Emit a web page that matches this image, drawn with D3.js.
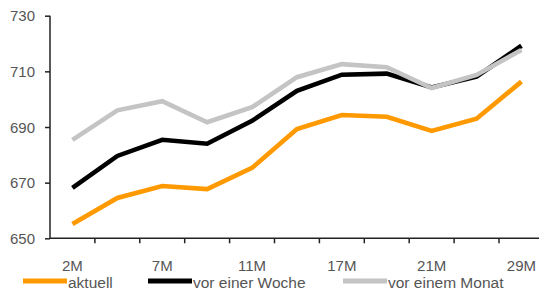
<!DOCTYPE html>
<html><head><meta charset="utf-8">
<script src="https://cdn.jsdelivr.net/npm/d3@7"></script>
<style>
html,body{margin:0;padding:0;background:#fff;}
svg{display:block;font-family:"Liberation Sans",Arial,sans-serif;}
</style></head>
<body>
<svg id="c" width="539" height="293"></svg>
<script>
const categories = ["2M","4M","7M","9M","11M","14M","17M","19M","21M","25M","29M"];
const shownLabels = ["2M","7M","11M","17M","21M","29M"];
const aktuell = [655.1,664.5,668.8,667.7,675.3,689.3,694.3,693.7,688.6,693.0,706.3];
const vorWoche = [668.1,679.6,685.4,684.0,692.2,703.0,708.8,709.2,704.2,708.1,719.2];
const vorMonat = [685.4,696.0,699.3,691.7,697.1,707.9,712.6,711.5,704.0,708.7,717.7];
const yTicks = [650,670,690,710,730];
const seriesNames = ["aktuell","vor einer Woche","vor einem Monat"];
const seriesColors = ["#ff9900","#000000","#c4c4c4"];

const svg = d3.select("#c");
const x0 = 50, xEnd = 50 + 11*44.9;
const xBand = d3.scaleBand().domain(categories).range([x0, xEnd]).padding(0);
const x = c => xBand(c) + xBand.bandwidth()/2;
const y = d3.scaleLinear().domain([650,730]).range([238.3,15.7]);

// y axis
const ya = svg.append("g").attr("transform",`translate(${x0},0)`)
  .call(d3.axisLeft(y).tickValues(yTicks).tickSize(5).tickPadding(10).tickFormat(d3.format("d")));
ya.select(".domain").attr("stroke","#222").attr("stroke-width",1.5).attr("d",`M-0,${y(730)}V${y(650)}`);
ya.selectAll(".tick line").attr("stroke","#222").attr("stroke-width",1.5);
ya.selectAll(".tick text").attr("fill","#555").attr("font-size","15px")
  .attr("font-family","'Liberation Sans',Arial,sans-serif").attr("dy","0.35em");

// x axis
const xg = svg.append("g");
xg.append("line").attr("x1",x0).attr("x2",539).attr("y1",y(650)).attr("y2",y(650))
  .attr("stroke","#222").attr("stroke-width",1.5);
categories.slice(1).forEach(c=>{
  xg.append("line").attr("x1",xBand(c)).attr("x2",xBand(c)).attr("y1",y(650)).attr("y2",y(650)+5)
    .attr("stroke","#222").attr("stroke-width",1.5);
});
categories.forEach(c=>{
  if(shownLabels.includes(c)){
    xg.append("text").attr("x",x(c)).attr("y",271).attr("text-anchor","middle")
      .attr("fill","#555").attr("font-size","15px").text(c);
  }
});

// lines
const data = [aktuell, vorWoche, vorMonat];
const line = d3.line().x((d,i)=>x(categories[i])).y(d=>y(d));
[1,2,0].forEach(k=>{
  svg.append("path").datum(data[k]).attr("d",line).attr("fill","none")
    .attr("stroke",seriesColors[k]).attr("stroke-width",4.6).attr("stroke-linejoin","miter").attr("stroke-linecap","butt");
});

// legend
const legendX = [23,148,343];
seriesNames.forEach((n,i)=>{
  const g = svg.append("g").attr("transform",`translate(${legendX[i]},281)`);
  g.append("line").attr("x1",0).attr("x2",44).attr("y1",0).attr("y2",0)
    .attr("stroke",seriesColors[i]).attr("stroke-width",5);
  g.append("text").attr("x",45).attr("y",7).attr("fill","#555").attr("font-size","15.5px").text(n);
});
</script>
</body></html>
